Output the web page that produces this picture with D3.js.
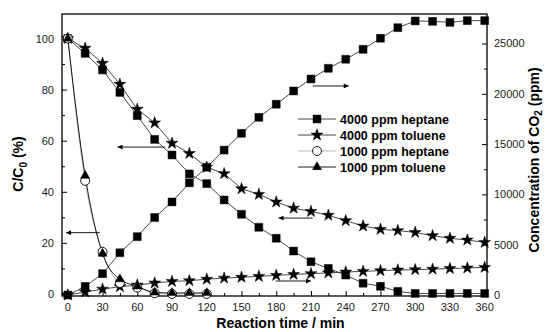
<!DOCTYPE html>
<html>
<head>
<meta charset="utf-8">
<script src="https://cdn.jsdelivr.net/npm/d3@7"></script>
<style>
  body { margin: 0; background: #fff; }
  text { font-family: "Liberation Sans", Arial, sans-serif; }
  .tick-label { font-size: 11px; fill: #222; }
  .axis-title { font-size: 14px; font-weight: bold; fill: #000; }
  .legend-label { font-size: 12.5px; font-weight: bold; fill: #000; }
</style>
</head>
<body>
<svg id="chart" width="546" height="332"></svg>
<script>
// time axis (min)
const time4000 = [0, 15, 30, 45, 60, 75, 90, 105, 120, 135, 150, 165, 180, 195, 210, 225, 240, 255, 270, 285, 300, 315, 330, 345, 360];
const time1000 = [0, 15, 30, 45, 60, 75, 90, 105, 120];

// C/C0 (%) - left axis
const heptane4000C = [100, 94.2, 87.7, 78.9, 69.8, 60.5, 54.4, 47.0, 43.2, 36.8, 31.2, 26.1, 21.8, 16.8, 12.6, 10.0, 7.4, 4.2, 3.0, 1.0, 0.2, 0.2, 0.2, 0.2, 0.2];
const toluene4000C = [100, 96.2, 90.3, 82.1, 72.3, 67.0, 59.0, 55.0, 49.6, 47.1, 41.2, 39.0, 36.0, 33.6, 32.3, 30.8, 28.7, 26.6, 25.3, 24.8, 24.1, 22.8, 21.8, 21.1, 20.2];
const heptane1000C = [100, 44.3, 16.5, 4.3, 2.5, 0.3, 0, 0, 0];
const toluene1000C = [100, 46.3, 15.8, 5.8, 3.0, 0.6, 0.4, 0.4, 0.4];

// CO2 (ppm) - right axis
const heptane4000CO2 = [0, 850, 2120, 4200, 5800, 7700, 9250, 11150, 12700, 14400, 16070, 17660, 18960, 20280, 21470, 22530, 23430, 24420, 25520, 26570, 27240, 27200, 27100, 27270, 27270];
const toluene4000CO2 = [0, 300, 580, 830, 990, 1190, 1350, 1420, 1570, 1680, 1760, 1850, 1950, 2050, 2120, 2200, 2280, 2350, 2420, 2480, 2520, 2570, 2630, 2680, 2750];

const xTicks = [0, 30, 60, 90, 120, 150, 180, 210, 240, 270, 300, 330, 360];
const yLeftTicks = [0, 20, 40, 60, 80, 100];
const yRightTicks = [0, 5000, 10000, 15000, 20000, 25000];

const legendLabels = ['4000 ppm heptane', '4000 ppm toluene', '1000 ppm heptane', '1000 ppm toluene'];

const margin = { top: 14, left: 62, right: 59, bottom: 36 };
const width = 546 - margin.left - margin.right;
const height = 332 - margin.top - margin.bottom;

const svg = d3.select('#chart');
const ctx = svg.append('g').attr('transform', `translate(${margin.left},${margin.top})`);

const xScale = d3.scaleLinear().domain([-5, 362]).range([0, width]);
const yLeft = d3.scaleLinear().domain([-0.8, 109.6]).range([height, 0]);
const yRight = d3.scaleLinear().domain([-100, 27930]).range([height, 0]);

// axes: ticks point into the plot
const xAxis = d3.axisTop(xScale).tickValues(xTicks).tickSize(5).tickFormat('');
const xMinor = d3.axisTop(xScale).tickValues(xTicks.slice(0, -1).map(t => t + 15)).tickSize(3).tickFormat('');
const yAxisL = d3.axisRight(yLeft).tickValues(yLeftTicks).tickSize(5).tickFormat('');
const yMinorL = d3.axisRight(yLeft).tickValues([10, 30, 50, 70, 90]).tickSize(3).tickFormat('');
const yAxisR = d3.axisLeft(yRight).tickValues(yRightTicks).tickSize(5).tickFormat('');
const yMinorR = d3.axisLeft(yRight).tickValues([2500, 7500, 12500, 17500, 22500]).tickSize(3).tickFormat('');

ctx.append('g').attr('transform', `translate(0,${height})`).call(xAxis);
ctx.append('g').attr('transform', `translate(0,${height})`).call(xMinor);
ctx.append('g').call(yAxisL);
ctx.append('g').call(yMinorL);
ctx.append('g').attr('transform', `translate(${width},0)`).call(yAxisR);
ctx.append('g').attr('transform', `translate(${width},0)`).call(yMinorR);
ctx.selectAll('.domain').remove();
ctx.selectAll('.tick line').attr('stroke', '#000').attr('stroke-width', 1);

// frame
ctx.append('rect')
    .attr('width', width).attr('height', height)
    .attr('fill', 'none').attr('stroke', '#000').attr('stroke-width', 1.3);

// tick labels
ctx.selectAll('.xlab').data(xTicks).join('text')
    .attr('class', 'tick-label')
    .attr('x', d => xScale(d)).attr('y', height + 15)
    .attr('text-anchor', 'middle')
    .text(d => d);
ctx.selectAll('.ylab').data(yLeftTicks).join('text')
    .attr('class', 'tick-label')
    .attr('x', -8).attr('y', d => yLeft(d) + 4)
    .attr('text-anchor', 'end')
    .text(d => d);
ctx.selectAll('.rlab').data(yRightTicks).join('text')
    .attr('class', 'tick-label')
    .attr('x', width + 7).attr('y', d => yRight(d) + 4)
    .attr('text-anchor', 'start')
    .text(d => d);

// axis titles
svg.append('text').attr('class', 'axis-title')
    .attr('x', margin.left + width / 2 + 6).attr('y', 328)
    .attr('text-anchor', 'middle')
    .text('Reaction time / min');

const lt = svg.append('text').attr('class', 'axis-title')
    .attr('transform', `translate(23,${margin.top + 150}) rotate(-90)`)
    .attr('text-anchor', 'middle');
lt.append('tspan').text('C/C');
lt.append('tspan').attr('dy', 4).attr('font-size', 10).text('0');
lt.append('tspan').attr('dy', -4).text(' (%)');

const rt = svg.append('text').attr('class', 'axis-title')
    .attr('transform', `translate(539,${margin.top + 146}) rotate(-90)`)
    .attr('text-anchor', 'middle');
rt.append('tspan').text('Concentration of CO');
rt.append('tspan').attr('dy', 3).attr('font-size', 10).text('2');
rt.append('tspan').attr('dy', -3).text(' (ppm)');

// series
const seriesList = [
    { t: time4000, v: heptane4000C, y: yLeft, sym: d3.symbolSquare, size: 62, fill: '#000', curve: d3.curveLinear, line: '#333' },
    { t: time4000, v: heptane4000CO2, y: yRight, sym: d3.symbolSquare, size: 62, fill: '#000', curve: d3.curveLinear, line: '#333' },
    { t: time4000, v: toluene4000C, y: yLeft, sym: d3.symbolStar, size: 44, fill: '#000', curve: d3.curveLinear, line: '#333' },
    { t: time4000, v: toluene4000CO2, y: yRight, sym: d3.symbolStar, size: 44, fill: '#000', curve: d3.curveLinear, line: '#333' },
    { t: time1000, v: heptane1000C, y: yLeft, sym: d3.symbolCircle, size: 64, fill: '#fff', curve: d3.curveMonotoneX, line: '#aaa' },
    { t: time1000, v: toluene1000C, y: yLeft, sym: d3.symbolTriangle, size: 36, fill: '#000', curve: d3.curveMonotoneX, line: '#000' }
];

const plot = ctx.append('g');
seriesList.forEach(s => {
    const pts = s.t.map((t, i) => [t, s.v[i]]);
    const line = d3.line().curve(s.curve).x(d => xScale(d[0])).y(d => s.y(d[1]));
    plot.append('path').datum(pts)
        .attr('d', line).attr('fill', 'none')
        .attr('stroke', s.line).attr('stroke-width', 0.9);
});
seriesList.forEach(s => {
    const pts = s.t.map((t, i) => [t, s.v[i]]);
    plot.append('g').selectAll('path').data(pts).join('path')
        .attr('d', d3.symbol(s.sym, s.size))
        .attr('transform', d => `translate(${xScale(d[0])},${s.y(d[1])})`)
        .attr('fill', s.fill)
        .attr('stroke', '#000').attr('stroke-width', s.fill === '#fff' ? 0.9 : 0.5);
});

// arrows pointing to the axis each curve belongs to
const arrows = [
    { from: [84, 57.5], to: [43, 57.5], y: yLeft },
    { from: [27.6, 24], to: [-1.5, 24], y: yLeft },
    { from: [211.5, 20775], to: [242.6, 20775], y: yRight },
    { from: [211.5, 29.7], to: [182, 29.7], y: yLeft },
    { from: [179.6, 1390], to: [210, 1390], y: yRight }
];
svg.append('defs').append('marker')
    .attr('id', 'head').attr('viewBox', '0 0 10 10')
    .attr('refX', 10).attr('refY', 5)
    .attr('markerWidth', 7).attr('markerHeight', 5)
    .attr('markerUnits', 'userSpaceOnUse')
    .attr('orient', 'auto')
    .append('path').attr('d', 'M0,0L10,5L0,10Z').attr('fill', '#000');
ctx.selectAll('.arrow').data(arrows).join('line')
    .attr('x1', d => xScale(d.from[0])).attr('y1', d => d.y(d.from[1]))
    .attr('x2', d => xScale(d.to[0])).attr('y2', d => d.y(d.to[1]))
    .attr('stroke', '#000').attr('stroke-width', 0.9)
    .attr('marker-end', 'url(#head)');

// legend
const legendSyms = [
    { sym: d3.symbolSquare, size: 62, fill: '#000', line: '#333' },
    { sym: d3.symbolStar, size: 44, fill: '#000', line: '#333' },
    { sym: d3.symbolCircle, size: 64, fill: '#fff', line: '#aaa' },
    { sym: d3.symbolTriangle, size: 36, fill: '#000', line: '#000' }
];
const legend = svg.append('g').attr('transform', 'translate(298,119)');
const rows = legend.selectAll('g').data(legendLabels).join('g')
    .attr('transform', (d, i) => `translate(0,${i * 16})`);
rows.append('line').attr('x1', 0).attr('x2', 38)
    .attr('stroke', (d, i) => legendSyms[i].line).attr('stroke-width', 0.9);
rows.append('path')
    .attr('d', (d, i) => d3.symbol(legendSyms[i].sym, legendSyms[i].size)())
    .attr('transform', 'translate(19,0)')
    .attr('fill', (d, i) => legendSyms[i].fill)
    .attr('stroke', '#000').attr('stroke-width', (d, i) => legendSyms[i].fill === '#fff' ? 0.9 : 0.5);
rows.append('text').attr('class', 'legend-label')
    .attr('x', 42).attr('y', 4.5)
    .text(d => d);
</script>
</body>
</html>
